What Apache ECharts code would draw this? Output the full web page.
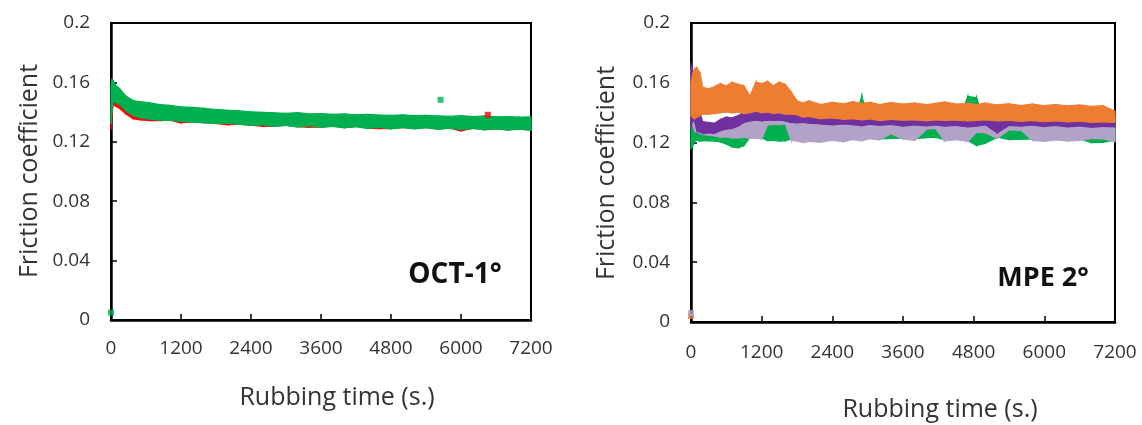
<!DOCTYPE html>
<html>
<head>
<meta charset="utf-8">
<script src="https://cdn.jsdelivr.net/npm/echarts@6/dist/echarts.min.js"></script>
<style>
html,body{margin:0;padding:0;background:#fff;}
#chart{width:1142px;height:425px;}
</style>
</head>
<body>
<div id="chart"></div>
<script>
// ---------- axis ticks ----------
const xTicks = [0, 1200, 2400, 3600, 4800, 6000, 7200];
const yTicks = [0, 0.04, 0.08, 0.12, 0.16, 0.2];

// ---------- LEFT PANEL (OCT-1°) ----------
const leftTime = [0, 15, 40, 80, 150, 250, 380, 500, 670, 850, 1000, 1200, 1400, 1600, 1800, 2000, 2200, 2400, 2600, 2800, 3000, 3200, 3400, 3600, 3800, 4000, 4200, 4400, 4600, 4800, 5000, 5200, 5400, 5600, 5800, 6000, 6200, 6400, 6600, 6800, 7000, 7200];
const leftGreenLow = [0.132, 0.140, 0.147, 0.1465, 0.145, 0.141, 0.1376, 0.1362, 0.1352, 0.1345, 0.1345, 0.1337, 0.1332, 0.1327, 0.1322, 0.1325, 0.1317, 0.131, 0.1314, 0.1304, 0.131, 0.13, 0.1307, 0.1297, 0.1304, 0.1294, 0.1302, 0.129, 0.1298, 0.1287, 0.1295, 0.1288, 0.1294, 0.1284, 0.1291, 0.1282, 0.1289, 0.128, 0.1287, 0.1279, 0.1285, 0.1277];
const leftGreenHigh = [0.158, 0.162, 0.161, 0.158, 0.1557, 0.151, 0.1477, 0.147, 0.1462, 0.145, 0.1445, 0.1435, 0.1432, 0.1425, 0.1418, 0.1412, 0.1408, 0.1402, 0.1398, 0.1395, 0.1392, 0.1396, 0.1388, 0.139, 0.1385, 0.1388, 0.1382, 0.1385, 0.138, 0.1378, 0.1382, 0.1376, 0.1378, 0.1375, 0.1372, 0.1376, 0.137, 0.1374, 0.1368, 0.137, 0.1366, 0.1368];
const leftRedLow = [0.128, 0.138, 0.1455, 0.144, 0.1425, 0.139, 0.1355, 0.1348, 0.1343, 0.1343, 0.1347, 0.1327, 0.1334, 0.1329, 0.1324, 0.1314, 0.1319, 0.1312, 0.1304, 0.1306, 0.1312, 0.1302, 0.1298, 0.1299, 0.1306, 0.1296, 0.1304, 0.1292, 0.1288, 0.1289, 0.1297, 0.129, 0.1296, 0.1286, 0.1293, 0.1273, 0.1291, 0.1282, 0.1289, 0.1281, 0.1287, 0.1279];
const leftRedHigh = [0.140, 0.148, 0.150, 0.150, 0.148, 0.146, 0.143, 0.141, 0.140, 0.140, 0.139, 0.139, 0.138, 0.138, 0.137, 0.137, 0.136, 0.136, 0.136, 0.135, 0.135, 0.135, 0.135, 0.134, 0.134, 0.134, 0.134, 0.134, 0.134, 0.134, 0.134, 0.133, 0.133, 0.133, 0.133, 0.133, 0.133, 0.133, 0.133, 0.133, 0.133, 0.133];
const leftGreenDots = [[0, 0.005], [5650, 0.1483]];
const leftRedDots = [[6460, 0.1382]];

// ---------- RIGHT PANEL (MPE 2°) ----------
const rightTime = [0, 30, 60, 100, 150, 200, 300, 400, 500, 600, 700, 800, 900, 1000, 1100, 1200, 1300, 1400, 1500, 1600, 1700, 1800, 1900, 2000, 2200, 2400, 2600, 2750, 2900, 3050, 3200, 3400, 3600, 3800, 4000, 4150, 4300, 4500, 4700, 4850, 5000, 5200, 5400, 5600, 5800, 6000, 6200, 6400, 6600, 6800, 7000, 7200];
const orangeLow = [0.138, 0.137, 0.136, 0.137, 0.138, 0.139, 0.139, 0.1395, 0.140, 0.1405, 0.140, 0.1405, 0.1395, 0.140, 0.141, 0.140, 0.1405, 0.1395, 0.140, 0.139, 0.139, 0.1385, 0.137, 0.1375, 0.136, 0.1365, 0.1355, 0.136, 0.1352, 0.1358, 0.1348, 0.1355, 0.135, 0.1352, 0.1345, 0.1352, 0.1348, 0.135, 0.1345, 0.1348, 0.1352, 0.1345, 0.1348, 0.1342, 0.1346, 0.134, 0.1345, 0.1338, 0.1343, 0.1336, 0.1338, 0.1335];
const orangeHigh = [0.160, 0.166, 0.169, 0.170, 0.167, 0.157, 0.156, 0.1575, 0.1595, 0.158, 0.1605, 0.159, 0.158, 0.151, 0.1605, 0.1595, 0.161, 0.158, 0.1605, 0.159, 0.154, 0.148, 0.1465, 0.148, 0.1455, 0.147, 0.146, 0.1475, 0.1462, 0.147, 0.1455, 0.1468, 0.1458, 0.1465, 0.1455, 0.1462, 0.1472, 0.1458, 0.1462, 0.1455, 0.1465, 0.1452, 0.146, 0.1448, 0.1458, 0.1447, 0.1455, 0.1445, 0.1452, 0.1442, 0.1447, 0.141];
const purpleLow = [0.130, 0.135, 0.134, 0.128, 0.127, 0.126, 0.1265, 0.1262, 0.128, 0.129, 0.1295, 0.131, 0.1335, 0.1345, 0.135, 0.1345, 0.135, 0.1348, 0.135, 0.1345, 0.1335, 0.1332, 0.1335, 0.133, 0.1325, 0.1318, 0.1325, 0.132, 0.1312, 0.1322, 0.1315, 0.1322, 0.131, 0.1318, 0.1312, 0.1318, 0.131, 0.1315, 0.1305, 0.131, 0.1318, 0.1265, 0.1315, 0.131, 0.1318, 0.1308, 0.1315, 0.1305, 0.1312, 0.1302, 0.1308, 0.1305];
const purpleHigh = [0.172, 0.168, 0.158, 0.150, 0.140, 0.134, 0.1335, 0.133, 0.1355, 0.137, 0.1365, 0.138, 0.1405, 0.141, 0.1415, 0.1405, 0.1412, 0.1408, 0.141, 0.1402, 0.139, 0.1395, 0.139, 0.1388, 0.1385, 0.138, 0.1385, 0.1378, 0.1382, 0.1385, 0.1375, 0.1382, 0.1378, 0.138, 0.1372, 0.1378, 0.1385, 0.1375, 0.138, 0.1385, 0.1378, 0.1372, 0.1375, 0.1368, 0.1378, 0.137, 0.1375, 0.1368, 0.1372, 0.1365, 0.137, 0.1368];
const lilacLow = [0.135, 0.132, 0.128, 0.127, 0.126, 0.1255, 0.125, 0.1245, 0.1235, 0.1238, 0.123, 0.1232, 0.1235, 0.1228, 0.123, 0.1225, 0.1318, 0.1322, 0.132, 0.1325, 0.1215, 0.121, 0.120, 0.1208, 0.1202, 0.1215, 0.1205, 0.122, 0.1212, 0.1225, 0.1218, 0.126, 0.1222, 0.1215, 0.129, 0.1295, 0.1212, 0.122, 0.1208, 0.127, 0.1265, 0.1228, 0.1285, 0.1282, 0.1215, 0.1208, 0.1218, 0.121, 0.1215, 0.1228, 0.1225, 0.1205];
const lilacHigh = [0.170, 0.150, 0.138, 0.134, 0.132, 0.131, 0.130, 0.1305, 0.132, 0.1333, 0.133, 0.1335, 0.1335, 0.134, 0.1345, 0.1342, 0.1347, 0.1345, 0.1347, 0.134, 0.1345, 0.134, 0.1345, 0.134, 0.1338, 0.134, 0.1336, 0.134, 0.1338, 0.1335, 0.1332, 0.1336, 0.133, 0.1335, 0.1332, 0.1336, 0.133, 0.1335, 0.1328, 0.1332, 0.133, 0.1326, 0.133, 0.1325, 0.133, 0.1322, 0.1328, 0.132, 0.1326, 0.1318, 0.1322, 0.132];
const greenLow = [0.116, 0.118, 0.121, 0.1215, 0.121, 0.1213, 0.1212, 0.121, 0.1205, 0.119, 0.117, 0.1165, 0.118, 0.1235, 0.1238, 0.1232, 0.1213, 0.1215, 0.121, 0.1212, 0.1225, 0.122, 0.1215, 0.1218, 0.1212, 0.1222, 0.1215, 0.1228, 0.1222, 0.1232, 0.1225, 0.1228, 0.123, 0.1225, 0.1233, 0.1235, 0.122, 0.1228, 0.1215, 0.118, 0.1195, 0.1235, 0.122, 0.1222, 0.1225, 0.1218, 0.1225, 0.122, 0.1225, 0.120, 0.1202, 0.1215];
const greenHigh = [0.1327, 0.130, 0.128, 0.1275, 0.1268, 0.1267, 0.1265, 0.1268, 0.1262, 0.126, 0.1255, 0.1265, 0.1268, 0.127, 0.127, 0.128, 0.1327, 0.1325, 0.133, 0.1328, 0.131, 0.130, 0.129, 0.129, 0.129, 0.132, 0.1295, 0.131, 0.151, 0.131, 0.129, 0.1285, 0.129, 0.1288, 0.1295, 0.129, 0.129, 0.1285, 0.151, 0.150, 0.131, 0.1285, 0.129, 0.129, 0.1285, 0.129, 0.129, 0.1288, 0.129, 0.1285, 0.129, 0.1295];
const rightStartDots = [[0, 0.004], [0, 0.006]];

// ---------- colours ----------
const C = {
  red: '#FF0000', green: '#00B050', orange: '#ED7D31', purple: '#7030A0', lilac: '#B3A2C7'
};

function band(name, gi, times, lo, hi, color) {
  const data = times.map((t, i) => [t, lo[i], hi[i]]);
  return {
    type: 'custom', name: name, xAxisIndex: gi, yAxisIndex: gi,
    data: data, encode: { x: 0, y: [1, 2] }, silent: true,
    renderItem: function (params, api) {
      const i = params.dataIndex;
      if (i >= data.length - 1) return null;
      const a = api.coord([data[i][0], data[i][2]]);
      const b = api.coord([data[i + 1][0], data[i + 1][2]]);
      const c = api.coord([data[i + 1][0], data[i + 1][1]]);
      const d = api.coord([data[i][0], data[i][1]]);
      return { type: 'polygon', shape: { points: [a, b, c, d] },
        style: { fill: color, stroke: color, lineWidth: 1.2 } };
    }
  };
}
function dots(gi, data, color) {
  return { type: 'scatter', xAxisIndex: gi, yAxisIndex: gi, data: data,
    symbol: 'rect', symbolSize: 6, itemStyle: { color: color }, silent: true };
}

const FONT = '"Open Sans", "Noto Sans", sans-serif';
const labelColor = '#333';

function xAxis(gi, margin) {
  return {
    gridIndex: gi, type: 'value', min: xTicks[0], max: xTicks[xTicks.length - 1], interval: 1200,
    axisLine: { show: true, onZero: false, lineStyle: { color: '#000', width: 2.5 } },
    axisTick: { show: true, inside: true, length: 6, lineStyle: { color: '#000', width: 1.5 } },
    axisLabel: { margin: margin, color: labelColor, fontSize: 19, fontFamily: FONT,
      formatter: function (v) { return String(v); } },
    splitLine: { show: false }
  };
}
function yAxis(gi) {
  return {
    gridIndex: gi, type: 'value', min: yTicks[0], max: yTicks[yTicks.length - 1], interval: 0.04,
    axisLine: { show: true, lineStyle: { color: '#000', width: 2.5 } },
    axisTick: { show: true, inside: true, length: 6, lineStyle: { color: '#000', width: 1.5 } },
    axisLabel: { margin: 21, color: labelColor, fontSize: 19, fontFamily: FONT },
    splitLine: { show: false }
  };
}
function txt(x, y, text, size, weight, rot) {
  return { type: 'text', x: x, y: y, rotation: rot || 0, silent: true,
    style: { text: text, fill: weight === 'bold' ? '#111' : labelColor,
      font: (weight || 'normal') + ' ' + size + 'px ' + FONT,
      textAlign: 'center', textVerticalAlign: 'middle', align: 'center', verticalAlign: 'middle' } };
}

const chart = echarts.init(document.getElementById('chart'), null, { renderer: 'canvas' });
chart.setOption({
  animation: false,
  backgroundColor: '#fff',
  grid: [
    { left: 111, top: 23, width: 420, height: 297, show: true, borderColor: '#000', borderWidth: 2 },
    { left: 691, top: 23, width: 424, height: 299, show: true, borderColor: '#000', borderWidth: 2 }
  ],
  xAxis: [xAxis(0, 19), xAxis(1, 21)],
  yAxis: [yAxis(0), yAxis(1)],
  graphic: [
    txt(337, 398, 'Rubbing time (s.)', 25),
    txt(940, 410, 'Rubbing time (s.)', 25),
    txt(30, 171, 'Friction coefficient', 25, 'normal', Math.PI / 2),
    txt(607, 173, 'Friction coefficient', 25, 'normal', Math.PI / 2),
    txt(455, 275, 'OCT-1°', 28, 'bold'),
    txt(1043, 278, 'MPE 2°', 27, 'bold')
  ],
  series: [
    band('OCT red', 0, leftTime, leftRedLow, leftRedHigh, C.red),
    band('OCT green', 0, leftTime, leftGreenLow, leftGreenHigh, C.green),
    dots(0, leftRedDots, C.red),
    dots(0, leftGreenDots, C.green),
    band('MPE green', 1, rightTime, greenLow, greenHigh, C.green),
    band('MPE lilac', 1, rightTime, lilacLow, lilacHigh, C.lilac),
    band('MPE purple', 1, rightTime, purpleLow, purpleHigh, C.purple),
    band('MPE orange', 1, rightTime, orangeLow, orangeHigh, C.orange),
    dots(1, [rightStartDots[0]], C.orange),
    dots(1, [rightStartDots[1]], C.lilac)
  ]
});
</script>
</body>
</html>
